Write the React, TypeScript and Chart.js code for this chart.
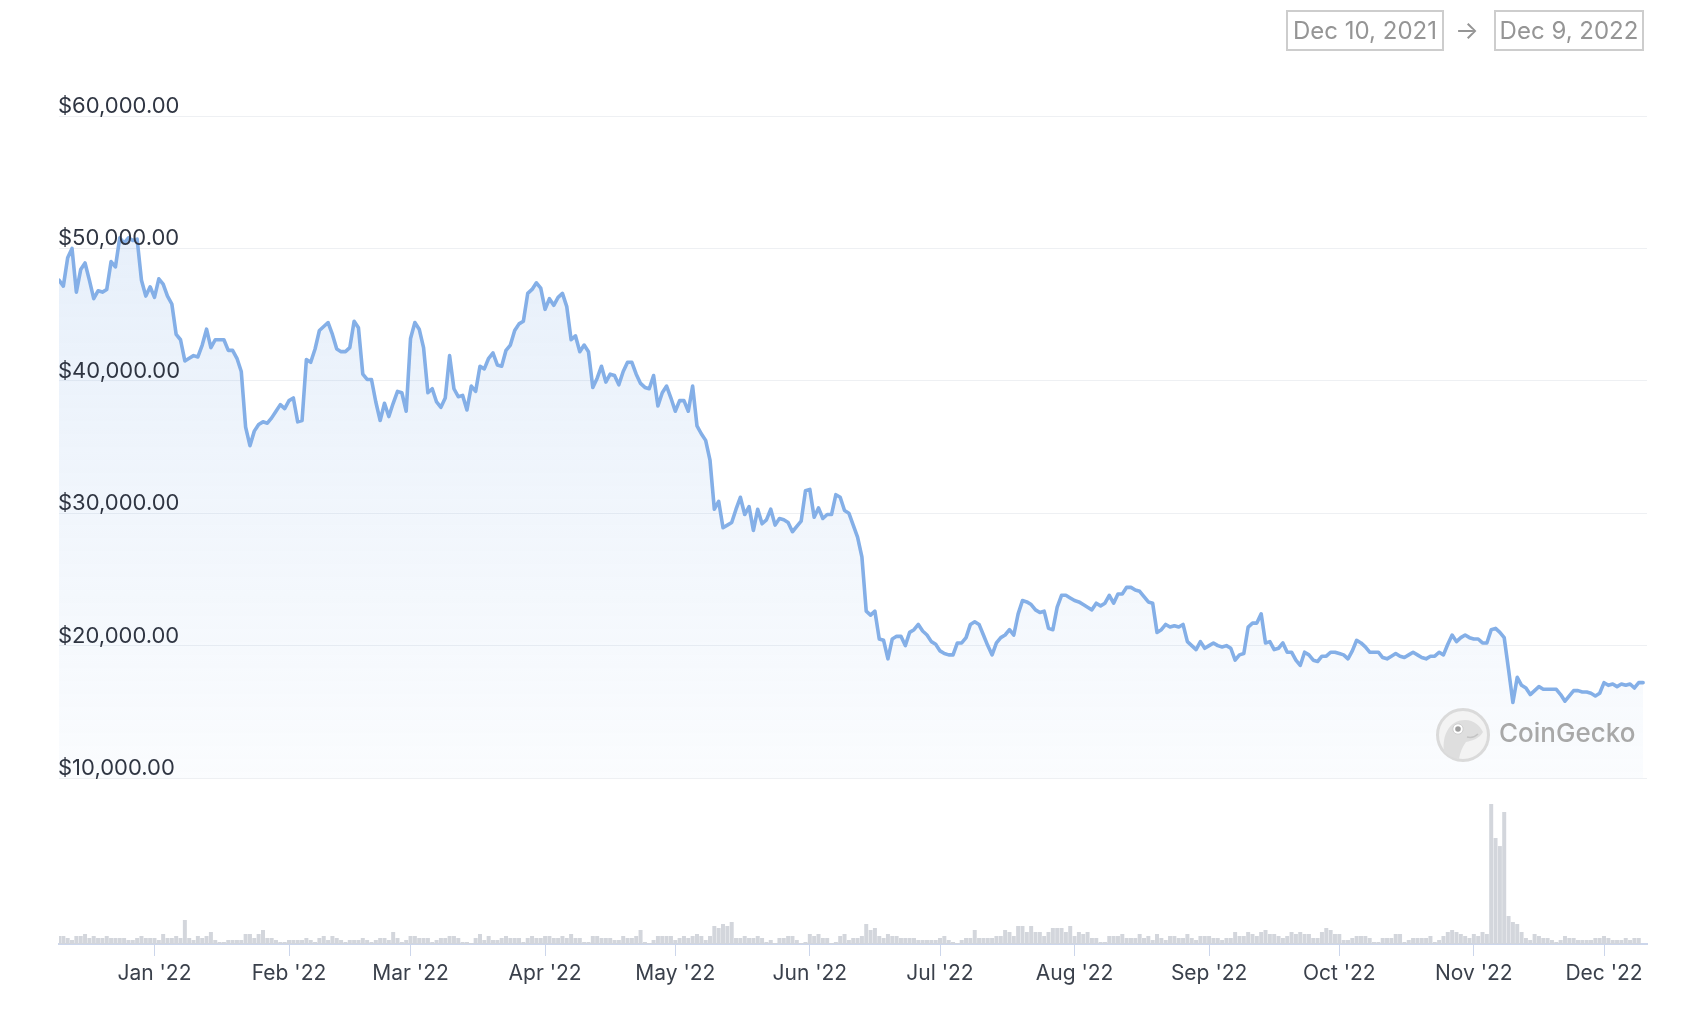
import React, { useEffect, useRef } from 'react';
import { Chart, registerables } from 'chart.js';

Chart.register(...registerables);

// ---------- data ----------
const START_LABEL = 'Dec 10, 2021';
const END_LABEL = 'Dec 9, 2022';
const WATERMARK = 'CoinGecko';

// daily BTC price (USD), Dec 10, 2021 -> Dec 9, 2022 (last point = live price)
const PRICES = [
  47600, 47150, 49300, 50000, 46700, 48400, 48900, 47600, 46200, 46800,
  46700, 46900, 49000, 48600, 50800, 50400, 50800, 50600, 50700, 47600,
  46400, 47100, 46300, 47700, 47300, 46400, 45800, 43500, 43100, 41500,
  41700, 41900, 41800, 42700, 43900, 42500, 43100, 43100, 43100, 42300,
  42300, 41700, 40700, 36500, 35100, 36200, 36700, 36900, 36800, 37200,
  37700, 38200, 37900, 38500, 38700, 36900, 37000, 41600, 41400, 42400,
  43800, 44100, 44400, 43500, 42400, 42200, 42200, 42500, 44500, 44000,
  40500, 40100, 40100, 38400, 37000, 38300, 37300, 38300, 39200, 39100,
  37700, 43200, 44400, 43900, 42500, 39100, 39400, 38400, 38000, 38700,
  41900, 39400, 38800, 38900, 37800, 39600, 39200, 41100, 40900, 41700,
  42100, 41200, 41100, 42300, 42700, 43800, 44300, 44500, 46600, 46900,
  47400, 47000, 45400, 46200, 45700, 46300, 46600, 45600, 43100, 43400,
  42200, 42700, 42200, 39500, 40200, 41100, 39900, 40500, 40400, 39700,
  40700, 41400, 41400, 40500, 39800, 39500, 39400, 40400, 38100, 39100,
  39600, 38700, 37700, 38500, 38500, 37700, 39600, 36600, 36000, 35500,
  34000, 30300, 30900, 28900, 29100, 29300, 30300, 31200, 29900, 30500,
  28700, 30300, 29200, 29500, 30300, 29100, 29600, 29500, 29300, 28600,
  29000, 29400, 31700, 31800, 29700, 30400, 29600, 29900, 29900, 31400,
  31200, 30200, 30000, 29100, 28200, 26700, 22600, 22300, 22600, 20500,
  20400, 19000, 20500, 20700, 20700, 20000, 21000, 21200, 21600, 21100,
  20800, 20300, 20100, 19600, 19400, 19300, 19300, 20200, 20200, 20600,
  21600, 21800, 21600, 20800, 20000, 19300, 20200, 20600, 20800, 21200,
  20800, 22400, 23400, 23300, 23100, 22700, 22500, 22600, 21300, 21200,
  22900, 23800, 23800, 23600, 23400, 23300, 23100, 22900, 22700, 23200,
  23000, 23200, 23800, 23200, 23900, 23900, 24400, 24400, 24200, 24100,
  23700, 23300, 23200, 21000, 21200, 21600, 21400, 21500, 21400, 21600,
  20300, 20000, 19700, 20300, 19800, 20000, 20200, 20000, 19900, 20000,
  19800, 18900, 19300, 19400, 21400, 21700, 21700, 22400, 20200, 20300,
  19700, 19800, 20200, 19500, 19500, 18900, 18500, 19500, 19300, 18900,
  18800, 19200, 19200, 19500, 19500, 19400, 19300, 19000, 19600, 20400,
  20200, 19900, 19500, 19500, 19500, 19100, 19000, 19200, 19400, 19200,
  19100, 19300, 19500, 19300, 19100, 19000, 19200, 19200, 19500, 19300,
  20100, 20800, 20300, 20600, 20800, 20600, 20500, 20500, 20200, 20200,
  21200, 21300, 21000, 20600, 18200, 15700, 17600, 17000, 16800, 16300,
  16600, 16900, 16700, 16700, 16700, 16700, 16300, 15800, 16200, 16600,
  16600, 16500, 16500, 16400, 16200, 16400, 17200, 17000, 17100, 16900,
  17100, 17000, 17100, 16800, 17200, 17200,
];

// daily 24h volume (billion USD)
const VOLUMES = [
  25.6, 25.6, 24.2, 22.8, 25.6, 25.6, 27.0, 24.2, 25.6, 24.2,
  24.2, 25.6, 24.2, 24.2, 24.2, 24.2, 22.8, 22.8, 24.2, 25.6,
  24.2, 24.2, 24.2, 22.8, 27.0, 24.2, 24.2, 25.6, 24.2, 36.8,
  24.2, 22.8, 25.6, 24.2, 25.6, 28.4, 22.8, 21.4, 21.4, 22.8,
  22.8, 22.8, 22.8, 27.0, 27.0, 24.2, 27.0, 29.8, 24.2, 24.2,
  22.8, 21.4, 21.4, 22.8, 22.8, 22.8, 22.8, 24.2, 22.8, 21.4,
  24.2, 25.6, 22.8, 25.6, 24.2, 22.8, 21.4, 22.8, 22.8, 22.8,
  24.2, 22.8, 21.4, 22.8, 24.2, 24.2, 22.8, 28.4, 24.2, 21.4,
  22.8, 25.6, 25.6, 24.2, 24.2, 24.2, 21.4, 22.8, 24.2, 24.2,
  25.6, 25.6, 24.2, 21.4, 21.4, 20.7, 24.2, 27.0, 22.8, 25.6,
  22.8, 22.8, 24.2, 25.6, 24.2, 24.2, 24.2, 21.4, 24.2, 25.6,
  24.2, 24.2, 25.6, 25.6, 24.2, 24.2, 25.6, 24.2, 27.0, 24.2,
  24.2, 21.4, 21.4, 25.6, 25.6, 24.2, 24.2, 24.2, 22.8, 22.8,
  25.6, 24.2, 24.2, 25.6, 29.8, 21.4, 20.7, 22.8, 25.6, 25.6,
  25.6, 25.6, 22.8, 24.2, 25.6, 24.2, 25.6, 27.0, 25.6, 22.8,
  25.6, 32.6, 31.2, 34.0, 32.6, 35.4, 24.2, 24.2, 25.6, 24.2,
  24.2, 25.6, 24.2, 21.4, 22.8, 20.7, 24.2, 24.2, 25.6, 25.6,
  22.8, 20.7, 21.4, 27.0, 25.6, 27.0, 24.2, 24.2, 20.7, 21.4,
  25.6, 27.0, 22.8, 24.2, 24.2, 25.6, 34.0, 29.8, 31.2, 25.6,
  24.2, 27.0, 25.6, 25.6, 24.2, 24.2, 24.2, 24.2, 22.8, 22.8,
  22.8, 22.8, 22.8, 24.2, 25.6, 22.8, 21.4, 20.7, 22.8, 24.2,
  24.2, 29.8, 24.2, 24.2, 24.2, 24.2, 25.6, 25.6, 29.8, 28.4,
  25.6, 32.6, 32.6, 28.4, 32.6, 28.4, 28.4, 25.6, 28.4, 31.2,
  31.2, 31.2, 28.4, 32.6, 25.6, 28.4, 27.0, 28.4, 24.2, 24.2,
  21.4, 21.4, 25.6, 25.6, 25.6, 27.0, 24.2, 24.2, 24.2, 27.0,
  24.2, 25.6, 22.8, 27.0, 24.2, 22.8, 25.6, 25.6, 24.2, 24.2,
  27.0, 24.2, 22.8, 25.6, 25.6, 25.6, 24.2, 24.2, 22.8, 24.2,
  24.2, 28.4, 25.6, 25.6, 28.4, 27.0, 25.6, 28.4, 29.8, 27.0,
  27.0, 25.6, 24.2, 25.6, 28.4, 27.0, 28.4, 27.0, 27.0, 24.2,
  24.2, 28.4, 31.2, 29.8, 27.0, 27.0, 22.8, 22.8, 24.2, 25.6,
  25.6, 25.6, 24.2, 21.4, 21.4, 24.2, 24.2, 24.2, 27.0, 27.0,
  21.4, 22.8, 24.2, 24.2, 24.2, 24.2, 25.6, 21.4, 22.8, 25.6,
  28.4, 29.8, 28.4, 27.0, 25.6, 24.2, 27.0, 25.6, 28.4, 27.0,
  118.0, 94.2, 88.6, 112.4, 39.6, 35.4, 34.0, 28.4, 24.2, 22.8,
  27.0, 25.6, 24.2, 24.2, 22.8, 21.4, 22.8, 25.6, 24.2, 24.2,
  22.8, 22.8, 22.8, 22.8, 24.2, 24.2, 25.6, 24.2, 22.8, 22.8,
  22.8, 24.2, 22.8, 24.2, 24.2,
];

// month ticks: day offset from Dec 10, 2021
const MONTH_TICKS = [22, 53, 81, 112, 142, 173, 203, 234, 265, 295, 326, 356];
const MONTH_LABELS = ["Jan '22", "Feb '22", "Mar '22", "Apr '22", "May '22", "Jun '22", "Jul '22", "Aug '22", "Sep '22", "Oct '22", "Nov '22", "Dec '22"];
const PRICE_TICKS = [10000, 20000, 30000, 40000, 50000, 60000];

// ---------- layout / style ----------
const W = 1688;
const H = 1026;
const AREA_LEFT = 59;
const AREA_RIGHT = 1647;
const AREA_TOP = 116; // pixel of $60,000
const PRICE_BOTTOM_PX = 778; // pixel of $10,000
const AREA_BOTTOM = 944; // volume baseline
const PX_PER_USD = (PRICE_BOTTOM_PX - AREA_TOP) / (60000 - 10000);
const PRICE_AXIS_MIN = 10000 - (AREA_BOTTOM - PRICE_BOTTOM_PX) / PX_PER_USD;
const VOL_AXIS_MIN = 20;
const VOL_AXIS_MAX = 600;
const X_MAX = 365.9;
const FONT = 'Inter, "Noto Sans", sans-serif';
const LINE_COLOR = '#84afe7';

const fmtUsd = (v: number) =>
  '$' + v.toLocaleString('en-US', { minimumFractionDigits: 2, maximumFractionDigits: 2 });

const priceLabelPlugin = {
  id: 'priceLabels',
  afterDatasetsDraw(chart: any) {
    const s = chart.scales.y;
    const c = chart.ctx;
    c.save();
    c.font = `22px ${FONT}`;
    c.fillStyle = '#2f3542';
    c.textAlign = 'left';
    c.textBaseline = 'alphabetic';
    for (const v of PRICE_TICKS) {
      const y = s.getPixelForValue(v);
      c.fillText(fmtUsd(v), chart.chartArea.left - 1, y - 3);
    }
    c.restore();
  },
};

export default function App() {
  const ref = useRef<HTMLCanvasElement>(null);

  useEffect(() => {
    document.body.style.margin = '0';
    const canvas = ref.current!;
    const chart = new Chart(canvas, {
      type: 'line',
      data: {
        datasets: [
          {
            type: 'line',
            label: 'Price',
            data: PRICES.map((p, i) => ({ x: i, y: p })),
            yAxisID: 'y',
            borderColor: LINE_COLOR,
            borderWidth: 3.6,
            pointRadius: 0,
            tension: 0,
            borderJoinStyle: 'round',
            borderCapStyle: 'round',
            fill: { value: 10000 },
            backgroundColor: (ctx: any) => {
              const c = ctx.chart.ctx;
              const g = c.createLinearGradient(0, AREA_TOP, 0, PRICE_BOTTOM_PX);
              g.addColorStop(0, 'rgba(137,179,232,0.24)');
              g.addColorStop(1, 'rgba(137,179,232,0.04)');
              return g;
            },
            order: 1,
          } as any,
          {
            type: 'bar',
            label: 'Volume',
            data: VOLUMES.map((v, i) => ({ x: i, y: v })),
            yAxisID: 'yv',
            backgroundColor: '#d3d6dc',
            borderWidth: 0,
            barPercentage: 0.92,
            categoryPercentage: 1,
            order: 2,
          } as any,
        ],
      },
      options: {
        responsive: false,
        animation: false,
        events: [],
        layout: {
          autoPadding: false,
          padding: { left: AREA_LEFT, right: W - AREA_RIGHT, top: AREA_TOP, bottom: 0 },
        },
        plugins: { legend: { display: false }, tooltip: { enabled: false } },
        scales: {
          x: {
            type: 'linear',
            min: 0,
            max: X_MAX,
            offset: false,
            afterBuildTicks: (s: any) => {
              s.ticks = MONTH_TICKS.map((v) => ({ value: v }));
            },
            afterFit: (s: any) => {
              s.height = H - AREA_BOTTOM;
            },
            ticks: {
              autoSkip: false,
              maxRotation: 0,
              padding: 5,
              color: '#3a404b',
              font: { family: FONT, size: 21 },
              callback: (v: any) => {
                const k = MONTH_TICKS.indexOf(Number(v));
                return k >= 0 ? MONTH_LABELS[k] : '';
              },
            },
            grid: { offset: false, drawOnChartArea: false, drawTicks: true, tickLength: 12, color: '#ccd6eb', lineWidth: 1 },
            border: { display: true, color: '#ccd6eb', width: 2 },
          },
          y: {
            type: 'linear',
            position: 'left',
            min: PRICE_AXIS_MIN,
            max: 60000,
            afterBuildTicks: (s: any) => {
              s.ticks = PRICE_TICKS.map((v) => ({ value: v }));
            },
            afterFit: (s: any) => {
              s.width = 0;
            },
            ticks: { display: false },
            grid: { color: '#eef0f3', lineWidth: 1, drawTicks: false },
            border: { display: false },
          },
          yv: {
            type: 'linear',
            display: false,
            min: VOL_AXIS_MIN,
            max: VOL_AXIS_MAX,
          },
        },
      } as any,
      plugins: [priceLabelPlugin],
    });
    return () => chart.destroy();
  }, []);

  const boxStyle: React.CSSProperties = {
    position: 'absolute',
    top: 10,
    height: 41,
    border: '2px solid #cdcdcd',
    boxSizing: 'border-box',
    display: 'flex',
    alignItems: 'center',
    justifyContent: 'center',
    color: '#959595',
    fontSize: 24,
    lineHeight: 1,
    whiteSpace: 'nowrap',
  };

  return (
    <div style={{ position: 'relative', width: W, height: H, background: '#fff', fontFamily: FONT, overflow: 'hidden' }}>
      <canvas ref={ref} width={W} height={H} style={{ position: 'absolute', left: 0, top: 0 }} />
      <div style={{ ...boxStyle, left: 1286, width: 158 }}>{START_LABEL}</div>
      <div style={{ position: 'absolute', left: 1454, top: 15, width: 26, textAlign: 'center', color: '#959595', fontSize: 25, lineHeight: '30px' }}>→</div>
      <div style={{ ...boxStyle, left: 1494, width: 150 }}>{END_LABEL}</div>
      <svg style={{ position: 'absolute', left: 1435, top: 707 }} width={56} height={56} viewBox="-28 -28 56 56">
        <circle cx={0} cy={0} r={25.5} fill="#f3f3f3" stroke="#dadada" strokeWidth={3} />
        <path d="M -19 16 C -21 -2, -12 -15, 2 -15 C 11 -15, 17 -9, 20 -3 C 17 3, 9 6, 3 7 C -1 12, -3 18, -4 24 C -10 23, -16 20, -19 16 Z" fill="#dedede" />
        <circle cx={-5} cy={-6} r={5.2} fill="#ffffff" stroke="#cfcfcf" strokeWidth={1} />
        <circle cx={-5} cy={-6} r={2.8} fill="#9d9d9d" />
        <path d="M 4 2 C 8 3, 12 2, 15 -1" stroke="#c4c4c4" strokeWidth={1.5} fill="none" />
      </svg>
      <div style={{ position: 'absolute', left: 1499, top: 716, fontSize: 26, fontWeight: 500, color: '#a8a8a8', lineHeight: '34px', whiteSpace: 'nowrap' }}>{WATERMARK}</div>
    </div>
  );
}
